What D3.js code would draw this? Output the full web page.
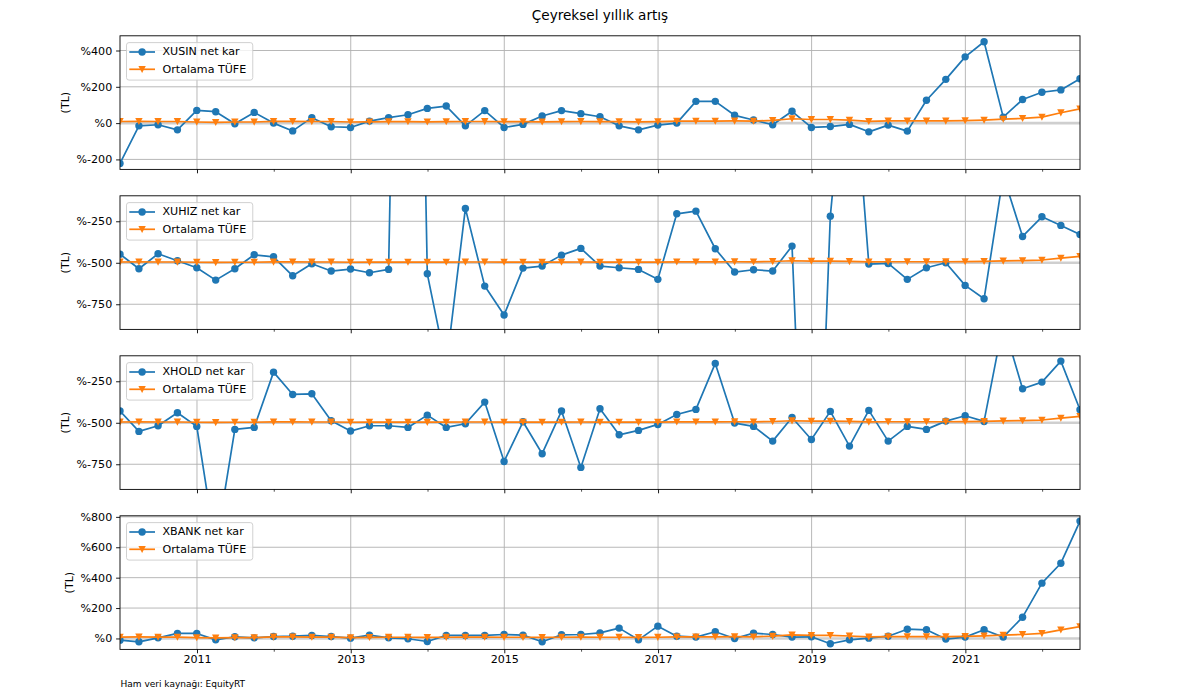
<!DOCTYPE html>
<html><head><meta charset="utf-8">
<script src="https://cdn.jsdelivr.net/npm/d3@7"></script>
<style>body{margin:0;background:#fff} text{font-family:"DejaVu Sans",sans-serif;fill:#000}</style>
</head><body><svg id="c" width="1200" height="697"></svg>
<script>
// ---- data ----
const quarters = ["2009-12-31",
 "2010-03-31","2010-06-30","2010-09-30","2010-12-31",
 "2011-03-31","2011-06-30","2011-09-30","2011-12-31",
 "2012-03-31","2012-06-30","2012-09-30","2012-12-31",
 "2013-03-31","2013-06-30","2013-09-30","2013-12-31",
 "2014-03-31","2014-06-30","2014-09-30","2014-12-31",
 "2015-03-31","2015-06-30","2015-09-30","2015-12-31",
 "2016-03-31","2016-06-30","2016-09-30","2016-12-31",
 "2017-03-31","2017-06-30","2017-09-30","2017-12-31",
 "2018-03-31","2018-06-30","2018-09-30","2018-12-31",
 "2019-03-31","2019-06-30","2019-09-30","2019-12-31",
 "2020-03-31","2020-06-30","2020-09-30","2020-12-31",
 "2021-03-31","2021-06-30","2021-09-30","2021-12-31",
 "2022-03-31","2022-06-30"];

const tufe = [9,10,9,9,6, 4,6,6,10, 10,9,9,6, 7,8,8,7, 8,9,9,8, 8,7,8,9, 8,8,7,8,
  11,11,11,12, 11,15,24,20, 20,16,10,12, 12,12,12,14, 17,22,26,33, 57,78,85];

const xusin = [-222,-15,-9,-37,70, 63,-4,59,0,-43, 30,-20,-24,11,30, 46,81,94,-15,69,
  -24,-7,39,69,52, 35,-15,-37,-11,0, 120,120,43,17,-9, 65,-24,-19,-7,-48,
  -11,-44,126,241,365, 448,33,130,170,183, 244];

const xuhiz = [104,-72,108,24,-60, -209,-72,96,72,-157, -12,-100,-76,-120,-80,
  12000,-133,-1250,655,-281, -630,-64,-40,92,173, -40,-60,-80,-200,590,
  622,169,-112,-84,-100, 201,-5400,562,3000,-16, -8,-200,-60,0,-273,
  -434,1050,317,554,450, 341];

const xhold = [141,-104,-36,120,-44, -1500,-80,-56,610,341, 349,24,-100,-36,-36,
  -56,92,-56,-12,249, -466,12,-373,141,-538, 169,-145,-92,-20,100,
  161,715,-4,-44,-221, 64,-201,137,-281,149, -221,-44,-80,20,84,
  16,1200,410,490,743, 157];

const xbank = [-11,-22,4,33,33, -9,11,4,13,15, 20,13,2,22,4, -2,-20,20,20,20,
  26,22,-22,24,26, 37,68,-9,81,15, 9,44,0,35,26, 9,11,-35,-9,2,
  15,61,57,-4,9, 57,9,140,364,495, 772];

const seriesNames = ["XUSIN net kar","XUHIZ net kar","XHOLD net kar","XBANK net kar"];
const tufeName = "Ortalama TÜFE";

const ticksA = [-200,0,200,400];      const labelsA = ["%-200","%0","%200","%400"];
const ticksB = [-500,0,500];          const labelsB = ["%-750","%-500","%-250"];
const ticksD = [0,200,400,600,800];   const labelsD = ["%0","%200","%400","%600","%800"];
const majorYears = ["2011","2013","2015","2017","2019","2021"];
const minorYears = ["2012","2014","2016","2018","2020","2022"];

const titleText = "Çeyreksel yıllık artış";
const yLabelText = "(TL)";
const sourceText = "Ham veri kaynağı: EquityRT";

// ---- layout ----
const panels = [
  {name: seriesNames[0], values: xusin, domain: [-255, 481], ticks: ticksA, labels: labelsA},
  {name: seriesNames[1], values: xuhiz, domain: [-803, 807], ticks: ticksB, labels: labelsB},
  {name: seriesNames[2], values: xhold, domain: [-803, 807], ticks: ticksB, labels: labelsB},
  {name: seriesNames[3], values: xbank, domain: [-72, 807], ticks: ticksD, labels: labelsD}
];
const L = 120, R = 1080, H = 133.6;
const tops = [35.8, 195.8, 355.8, 515.8];
const BLUE = "#1f77b4", ORANGE = "#ff7f0e";
const FS = 11.1;

const svg = d3.select("#c");
const defs = svg.append("defs");
const parse = d3.timeParse("%Y-%m-%d");
const dates = quarters.map(parse);
const x = d3.scaleTime().domain([dates[0], dates[dates.length - 1]]).range([L, R]);
const yearParse = d3.timeParse("%Y");
const majorDates = majorYears.map(yearParse);
const minorDates = minorYears.map(yearParse);

svg.append("text").attr("x", 600).attr("y", 20).attr("text-anchor", "middle")
  .style("font-size", "13.6px").text(titleText);

const triPath = "M0,3.7L-3.7,-3.4L3.7,-3.4Z";

panels.forEach((p, k) => {
  const top = tops[k], bot = top + H;
  const y = d3.scaleLinear().domain(p.domain).range([bot, top]);
  const g = svg.append("g");
  const cid = "clip" + k;
  defs.append("clipPath").attr("id", cid).append("rect")
    .attr("x", L).attr("y", top).attr("width", R - L).attr("height", H);

  // grids
  g.selectAll(".hg").data(p.ticks).enter().append("line")
    .attr("x1", L).attr("x2", R).attr("y1", d => y(d)).attr("y2", d => y(d))
    .attr("stroke", "#b0b0b0").attr("stroke-width", 0.9);
  g.selectAll(".vg").data(majorDates).enter().append("line")
    .attr("x1", d => x(d)).attr("x2", d => x(d)).attr("y1", top).attr("y2", bot)
    .attr("stroke", "#b0b0b0").attr("stroke-width", 0.9);

  const plot = g.append("g").attr("clip-path", `url(#${cid})`);
  // zero reference band
  plot.append("line").attr("x1", L).attr("x2", R).attr("y1", y(0)).attr("y2", y(0))
    .attr("stroke", "#cfcfcf").attr("stroke-width", 2.6);

  const line = d3.line().x((d, i) => x(dates[i])).y(d => y(d));
  // series
  plot.append("path").datum(p.values).attr("d", line).attr("fill", "none")
    .attr("stroke", BLUE).attr("stroke-width", 1.7).attr("stroke-linejoin", "round");
  plot.selectAll(".dot").data(p.values).enter().append("circle")
    .attr("cx", (d, i) => x(dates[i])).attr("cy", d => y(d)).attr("r", 3.7).attr("fill", BLUE);
  // tufe
  plot.append("path").datum(tufe).attr("d", line).attr("fill", "none")
    .attr("stroke", ORANGE).attr("stroke-width", 1.7).attr("stroke-linejoin", "round");
  plot.selectAll(".tri").data(tufe).enter().append("path")
    .attr("d", triPath).attr("fill", ORANGE)
    .attr("transform", (d, i) => `translate(${x(dates[i])},${y(d)})`);

  // y axis
  const ya = g.append("g").attr("transform", `translate(${L},0)`)
    .call(d3.axisLeft(y).tickValues(p.ticks).tickFormat((d, i) => p.labels[i]).tickSize(3.9).tickPadding(3.9));
  ya.select(".domain").remove();
  ya.selectAll("line").attr("stroke", "#000").attr("stroke-width", 0.9);
  ya.selectAll("text").style("font-size", FS + "px").attr("font-family", null).attr("dy", null)
    .attr("dominant-baseline", "central");

  // x axes (major + minor)
  const xa = g.append("g").attr("transform", `translate(0,${bot})`)
    .call(d3.axisBottom(x).tickValues(majorDates)
      .tickFormat(k === 3 ? d3.timeFormat("%Y") : () => "").tickSize(3.9).tickPadding(3.9));
  xa.select(".domain").remove();
  xa.selectAll("line").attr("stroke", "#000").attr("stroke-width", 0.9);
  xa.selectAll("text").style("font-size", FS + "px").attr("font-family", null).attr("dy", null)
    .attr("y", 13.9).attr("dominant-baseline", "auto");
  const xm = g.append("g").attr("transform", `translate(0,${bot})`)
    .call(d3.axisBottom(x).tickValues(minorDates).tickFormat(() => "").tickSize(2.3));
  xm.select(".domain").remove();
  xm.selectAll("line").attr("stroke", "#000").attr("stroke-width", 0.7);

  // spines
  g.append("rect").attr("x", L).attr("y", top).attr("width", R - L).attr("height", H)
    .attr("fill", "none").attr("stroke", "#000").attr("stroke-width", 0.9);

  // y label
  let minX = Infinity;
  ya.selectAll("text").each(function () { const b = this.getBBox(); minX = Math.min(minX, b.x); });
  const lx = L + minX - 4.4 - 6.3;
  g.append("text").attr("transform", `translate(${lx},${top + H / 2}) rotate(-90)`)
    .attr("text-anchor", "middle").attr("dominant-baseline", "central")
    .style("font-size", FS + "px").text(yLabelText);

  // legend
  const lg = g.append("g").attr("transform", `translate(126.5,${top + 6.8})`);
  const box = lg.append("rect").attr("rx", 2.5).attr("ry", 2.5)
    .attr("fill", "#fff").attr("fill-opacity", 0.8).attr("stroke", "#cccccc").attr("stroke-width", 0.9);
  const items = [{label: p.name, color: BLUE, m: "c"}, {label: tufeName, color: ORANGE, m: "t"}];
  let maxW = 0;
  items.forEach((it, j) => {
    const ry = 9.4 + j * 17.3;
    lg.append("line").attr("x1", 2.8).attr("x2", 28.5).attr("y1", ry).attr("y2", ry)
      .attr("stroke", it.color).attr("stroke-width", 1.7);
    if (it.m === "c") lg.append("circle").attr("cx", 15.6).attr("cy", ry).attr("r", 3.7).attr("fill", it.color);
    else lg.append("path").attr("d", triPath).attr("fill", it.color).attr("transform", `translate(15.6,${ry})`);
    const t = lg.append("text").attr("x", 36).attr("y", ry).attr("dominant-baseline", "central")
      .style("font-size", FS + "px").text(it.label);
    maxW = Math.max(maxW, t.node().getComputedTextLength());
  });
  box.attr("x", 0).attr("y", 0).attr("width", 36 + maxW + 6.5).attr("height", 37.5);
});

svg.append("text").attr("x", 120.5).attr("y", 687).style("font-size", "9px").text(sourceText);
</script>
</body></html>
